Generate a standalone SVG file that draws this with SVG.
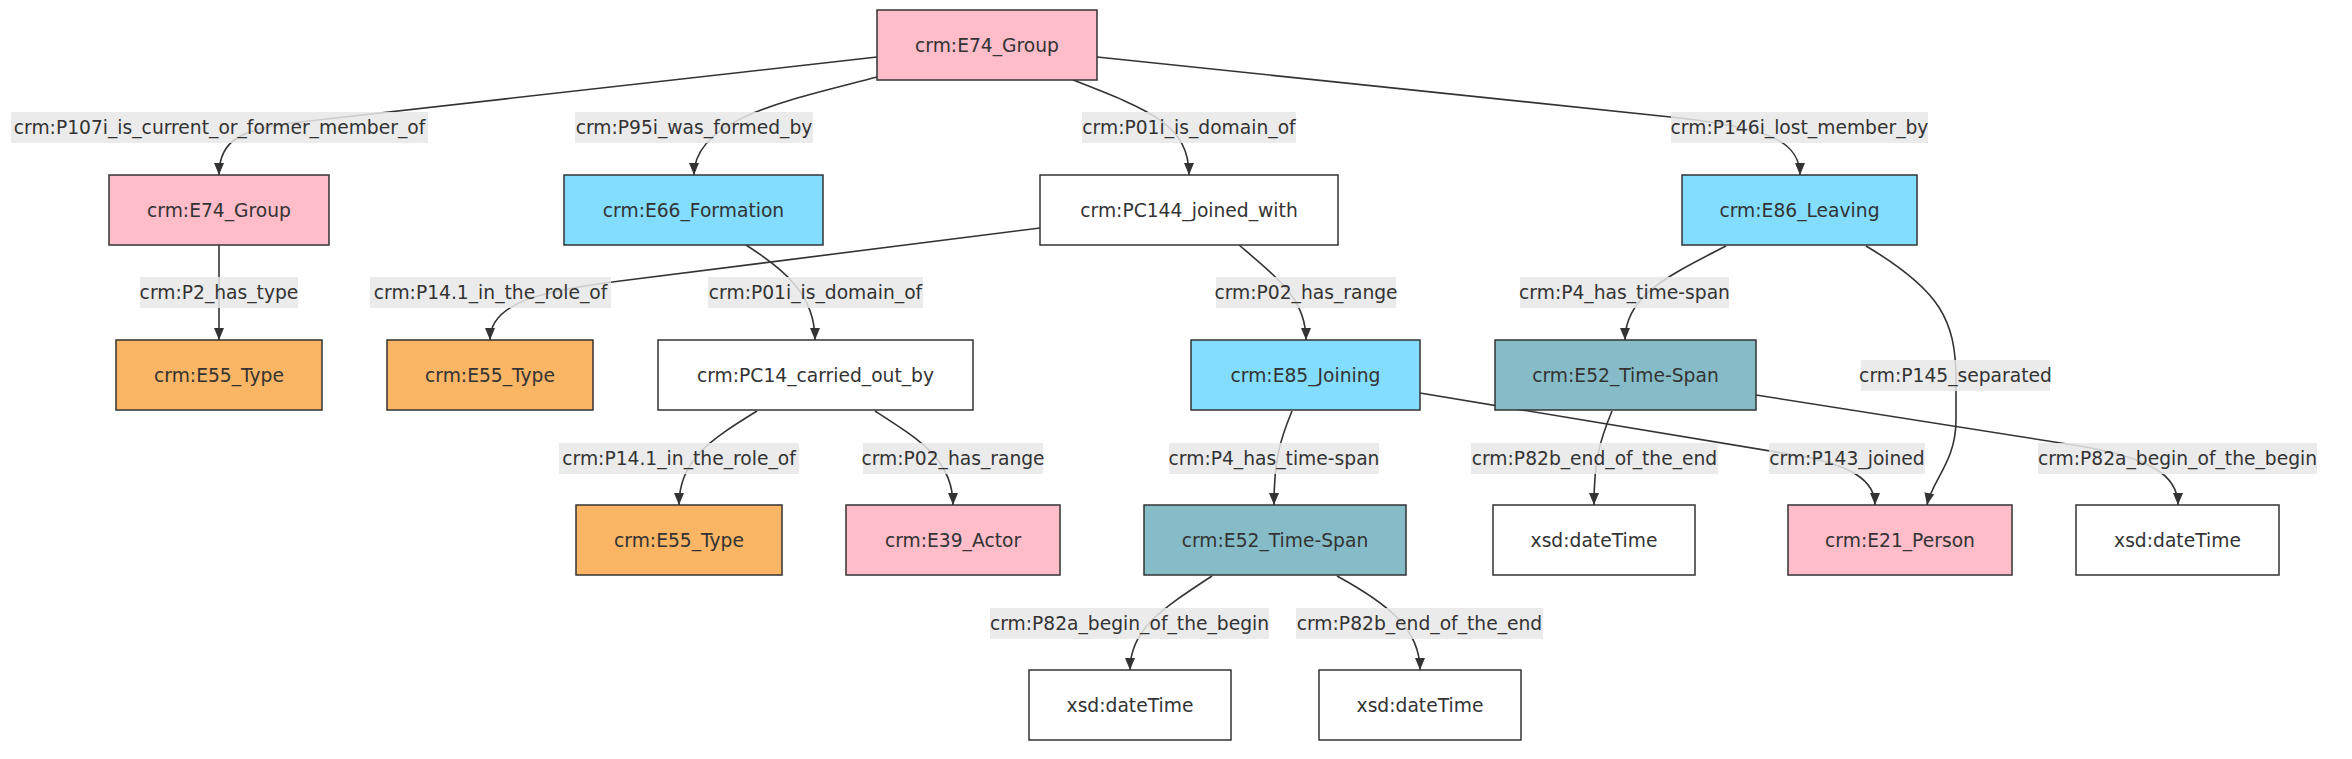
<svg xmlns="http://www.w3.org/2000/svg" width="2352" height="759" viewBox="0 0 2352 759">
<style>
.bg{fill:#ffffff}
.n rect{stroke:#333333;stroke-width:1.5}
.pink{fill:#FFBDCA}
.blue{fill:#82DDFF}
.orange{fill:#FAB565}
.teal{fill:#86BCC8}
.white{fill:#FFFFFF}
text{font-family:"DejaVu Sans",Verdana,sans-serif;font-size:18.7px;fill:#333333;text-anchor:middle}
.e path{fill:none;stroke:#333333;stroke-width:1.6;marker-end:url(#arr)}
.lb rect{fill:#e8e8e8;fill-opacity:0.85}
</style>
<defs>
<marker id="arr" viewBox="0 0 12 10" refX="12" refY="5" markerWidth="12" markerHeight="10" markerUnits="userSpaceOnUse" orient="auto">
<path d="M0,0 L12,5 L0,10 z" fill="#333333"/>
</marker>
</defs>
<rect class="bg" x="0" y="0" width="2352" height="759"/>
<g id="connectors" class="e">
<path d="M877,57 L300,122 C240,129 219,140 219,175"/>
<path d="M877,77 C790,100 694,118 694,175"/>
<path d="M1073,80 C1150,110 1189,125 1189,175"/>
<path d="M1097,57 L1680,118 C1765,128 1800,140 1800,175"/>
<path d="M219,245 L219,340"/>
<path d="M1040,228 L620,281 C540,291 490,303 490,340"/>
<path d="M746,245 C785,270 815,295 815,340"/>
<path d="M1239,245 C1280,280 1306,300 1306,340"/>
<path d="M1726,246 C1670,275 1625,295 1625,340"/>
<path d="M1866,246 C1940,290 1956,320 1956,380 L1956,420 C1956,462 1932,480 1927,505"/>
<path d="M757,411 C710,440 679,460 679,505"/>
<path d="M875,411 C920,440 953,460 953,505"/>
<path d="M1292,411 C1280,440 1274,460 1274,505"/>
<path d="M1420,393 L1800,456 C1850,465 1875,480 1875,505"/>
<path d="M1612,411 C1600,440 1594,460 1594,505"/>
<path d="M1756,395 L2080,446 C2150,458 2178,475 2178,505"/>
<path d="M1212,576 C1160,610 1130,630 1130,670"/>
<path d="M1337,576 C1390,605 1420,630 1420,670"/>
</g>
<g id="edge-labels" class="lb">
<rect x="11" y="112" width="417" height="31"/><text x="219.5" y="134">crm:P107i_is_current_or_former_member_of</text>
<rect x="575" y="112" width="238" height="31"/><text x="694" y="134">crm:P95i_was_formed_by</text>
<rect x="1082" y="112" width="214" height="31"/><text x="1189" y="134">crm:P01i_is_domain_of</text>
<rect x="1671" y="112" width="257" height="31"/><text x="1799.5" y="134">crm:P146i_lost_member_by</text>
<rect x="140" y="277" width="158" height="31"/><text x="219" y="299">crm:P2_has_type</text>
<rect x="370" y="277" width="241" height="31"/><text x="490.5" y="299">crm:P14.1_in_the_role_of</text>
<rect x="708" y="277" width="215" height="31"/><text x="815.5" y="299">crm:P01i_is_domain_of</text>
<rect x="1216" y="277" width="180" height="31"/><text x="1306" y="299">crm:P02_has_range</text>
<rect x="1520" y="277" width="209" height="31"/><text x="1624.5" y="299">crm:P4_has_time-span</text>
<rect x="1861" y="360" width="189" height="31"/><text x="1955.5" y="382">crm:P145_separated</text>
<rect x="559" y="443" width="240" height="31"/><text x="679" y="465">crm:P14.1_in_the_role_of</text>
<rect x="863" y="443" width="180" height="31"/><text x="953" y="465">crm:P02_has_range</text>
<rect x="1169" y="443" width="210" height="31"/><text x="1274" y="465">crm:P4_has_time-span</text>
<rect x="1471" y="443" width="247" height="31"/><text x="1594.5" y="465">crm:P82b_end_of_the_end</text>
<rect x="1769" y="443" width="156" height="31"/><text x="1847" y="465">crm:P143_joined</text>
<rect x="2038" y="443" width="279" height="31"/><text x="2177.5" y="465">crm:P82a_begin_of_the_begin</text>
<rect x="990" y="608" width="279" height="31"/><text x="1129.5" y="630">crm:P82a_begin_of_the_begin</text>
<rect x="1296" y="608" width="247" height="31"/><text x="1419.5" y="630">crm:P82b_end_of_the_end</text>
</g>
<g id="n1" class="n"><rect class="pink" x="877" y="10" width="220" height="70"/><text x="987" y="52">crm:E74_Group</text></g>
<g id="n2" class="n"><rect class="pink" x="109" y="175" width="220" height="70"/><text x="219" y="217">crm:E74_Group</text></g>
<g id="n3" class="n"><rect class="blue" x="564" y="175" width="259" height="70"/><text x="693.5" y="217">crm:E66_Formation</text></g>
<g id="n4" class="n"><rect class="white" x="1040" y="175" width="298" height="70"/><text x="1189" y="217">crm:PC144_joined_with</text></g>
<g id="n5" class="n"><rect class="blue" x="1682" y="175" width="235" height="70"/><text x="1799.5" y="217">crm:E86_Leaving</text></g>
<g id="n6" class="n"><rect class="orange" x="116" y="340" width="206" height="70"/><text x="219" y="382">crm:E55_Type</text></g>
<g id="n7" class="n"><rect class="orange" x="387" y="340" width="206" height="70"/><text x="490" y="382">crm:E55_Type</text></g>
<g id="n8" class="n"><rect class="white" x="658" y="340" width="315" height="70"/><text x="815.5" y="382">crm:PC14_carried_out_by</text></g>
<g id="n9" class="n"><rect class="blue" x="1191" y="340" width="229" height="70"/><text x="1305.5" y="382">crm:E85_Joining</text></g>
<g id="n10" class="n"><rect class="teal" x="1495" y="340" width="261" height="70"/><text x="1625.5" y="382">crm:E52_Time-Span</text></g>
<g id="n11" class="n"><rect class="orange" x="576" y="505" width="206" height="70"/><text x="679" y="547">crm:E55_Type</text></g>
<g id="n12" class="n"><rect class="pink" x="846" y="505" width="214" height="70"/><text x="953" y="547">crm:E39_Actor</text></g>
<g id="n13" class="n"><rect class="teal" x="1144" y="505" width="262" height="70"/><text x="1275" y="547">crm:E52_Time-Span</text></g>
<g id="n14" class="n"><rect class="white" x="1493" y="505" width="202" height="70"/><text x="1594" y="547">xsd:dateTime</text></g>
<g id="n15" class="n"><rect class="pink" x="1788" y="505" width="224" height="70"/><text x="1900" y="547">crm:E21_Person</text></g>
<g id="n16" class="n"><rect class="white" x="2076" y="505" width="203" height="70"/><text x="2177.5" y="547">xsd:dateTime</text></g>
<g id="n17" class="n"><rect class="white" x="1029" y="670" width="202" height="70"/><text x="1130" y="712">xsd:dateTime</text></g>
<g id="n18" class="n"><rect class="white" x="1319" y="670" width="202" height="70"/><text x="1420" y="712">xsd:dateTime</text></g>
</svg>
